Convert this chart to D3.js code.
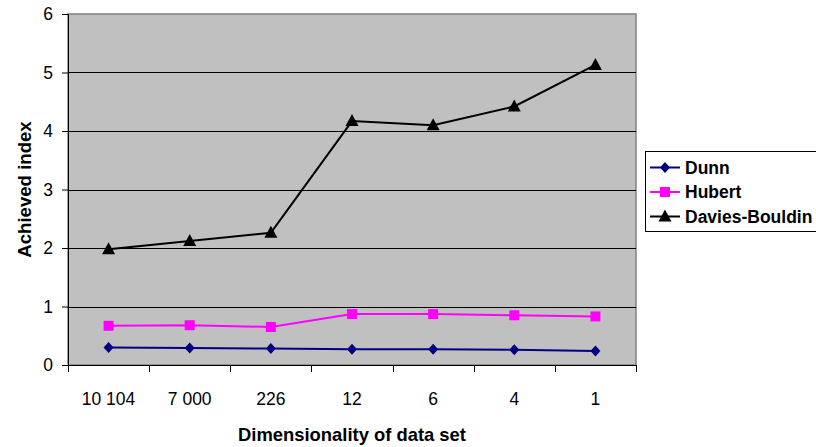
<!DOCTYPE html>
<html>
<head>
<meta charset="utf-8">
<script src="https://cdn.jsdelivr.net/npm/d3@7"></script>
<style>
  html, body { margin: 0; padding: 0; background: #ffffff; }
  svg { display: block; font-family: "Liberation Sans", Arial, sans-serif; }
</style>
</head>
<body>
<svg id="chart" width="816" height="447"></svg>
<script>
// Dimensionality of each data set (x categories)
const categories = ["10 104", "7 000", "226", "12", "6", "4", "1"];

// Achieved index values per validity measure
const dunn = [0.30, 0.29, 0.28, 0.27, 0.27, 0.26, 0.24];
const hubert = [0.67, 0.68, 0.65, 0.87, 0.87, 0.85, 0.83];
const daviesBouldin = [1.98, 2.12, 2.26, 4.17, 4.10, 4.42, 5.13];

const yTicks = [0, 1, 2, 3, 4, 5, 6];

const series = [
  { name: "Dunn", values: dunn, color: "#000080", marker: "diamond" },
  { name: "Hubert", values: hubert, color: "#ff00ff", marker: "square" },
  { name: "Davies-Bouldin", values: daviesBouldin, color: "#000000", marker: "triangle" }
];

const svg = d3.select("#chart");
const plot = { left: 68, right: 636, top: 14, bottom: 365 };

const x = d3.scaleBand().domain(categories).range([plot.left, plot.right]);
const y = d3.scaleLinear().domain([0, 6]).range([plot.bottom, plot.top]);

// Plot area background
svg.append("rect")
  .attr("x", plot.left).attr("y", plot.top)
  .attr("width", plot.right - plot.left).attr("height", plot.bottom - plot.top)
  .attr("fill", "#c0c0c0")
  .attr("stroke", "#808080").attr("stroke-width", 1.5);

// Horizontal gridlines
svg.append("g").selectAll("line")
  .data(yTicks.filter(d => d > 0 && d < 6))
  .join("line")
  .attr("x1", plot.left).attr("x2", plot.right)
  .attr("y1", d => Math.round(y(d)) + 0.5).attr("y2", d => Math.round(y(d)) + 0.5)
  .attr("stroke", "#000").attr("stroke-width", 1);

// Y axis
const yAxis = svg.append("g")
  .attr("transform", `translate(${plot.left},0)`)
  .call(d3.axisLeft(y).tickValues(yTicks).tickSize(6).tickPadding(9).tickFormat(d3.format("d")));
yAxis.select(".domain").attr("stroke", "#000");
yAxis.selectAll(".tick line").attr("stroke", "#000");
yAxis.selectAll("text").attr("font-size", 17.5).attr("fill", "#000")
  .attr("font-family", "Liberation Sans, Arial, sans-serif");

// X axis: ticks sit on category boundaries
const xAxisG = svg.append("g").attr("transform", `translate(0,${plot.bottom})`);
const bounds = categories.map(c => x(c)).concat([plot.right]);
xAxisG.append("line")
  .attr("x1", plot.left).attr("x2", plot.right).attr("y1", 0.5).attr("y2", 0.5)
  .attr("stroke", "#000");
xAxisG.selectAll("line.tk").data(bounds).join("line").attr("class", "tk")
  .attr("x1", d => Math.round(d) + 0.5).attr("x2", d => Math.round(d) + 0.5)
  .attr("y1", 0).attr("y2", 7).attr("stroke", "#000");
xAxisG.selectAll("text").data(categories).join("text")
  .attr("x", d => x(d) + x.bandwidth() / 2)
  .attr("y", 40)
  .attr("text-anchor", "middle")
  .attr("font-size", 17.5)
  .attr("fill", "#000")
  .text(d => d);

// Axis titles
svg.append("text")
  .attr("x", (plot.left + plot.right) / 2).attr("y", 441)
  .attr("text-anchor", "middle").attr("font-size", 18.4).attr("font-weight", "bold")
  .text("Dimensionality of data set");

svg.append("text")
  .attr("transform", `translate(31,${(plot.top + plot.bottom) / 2}) rotate(-90)`)
  .attr("text-anchor", "middle").attr("font-size", 18.6).attr("font-weight", "bold")
  .text("Achieved index");

// Marker shapes
function markerPath(type) {
  if (type === "diamond") return "M0,-5.5L5,0L0,5.5L-5,0Z";
  if (type === "square") return "M-5,-5H5V5H-5Z";
  return "M0,-7L6.5,5L-6.5,5Z";
}

const cx = c => x(c) + x.bandwidth() / 2;
const line = d3.line().x((d, i) => cx(categories[i])).y(d => y(d));

series.forEach(s => {
  const g = svg.append("g");
  g.append("path")
    .attr("d", line(s.values))
    .attr("fill", "none").attr("stroke", s.color).attr("stroke-width", 2);
  g.selectAll("path.m").data(s.values).join("path").attr("class", "m")
    .attr("transform", (d, i) => `translate(${cx(categories[i])},${y(d)})`)
    .attr("d", markerPath(s.marker))
    .attr("fill", s.color);
});

// Legend
const legend = svg.append("g");
legend.append("rect")
  .attr("x", 645.5).attr("y", 151.5).attr("width", 172).attr("height", 80)
  .attr("fill", "#fff").attr("stroke", "#000").attr("stroke-width", 1);
const legendY = d3.scalePoint().domain(series.map(s => s.name)).range([167.5, 216.5]);
series.forEach(s => {
  const yy = legendY(s.name);
  legend.append("line")
    .attr("x1", 650).attr("x2", 680).attr("y1", yy).attr("y2", yy)
    .attr("stroke", s.color).attr("stroke-width", 2);
  legend.append("path")
    .attr("transform", `translate(665,${yy})`)
    .attr("d", markerPath(s.marker))
    .attr("fill", s.color);
  legend.append("text")
    .attr("x", 685).attr("y", yy).attr("dy", "0.36em")
    .attr("font-size", 17.5).attr("font-weight", "bold").attr("fill", "#000")
    .text(s.name);
});
</script>
</body>
</html>
